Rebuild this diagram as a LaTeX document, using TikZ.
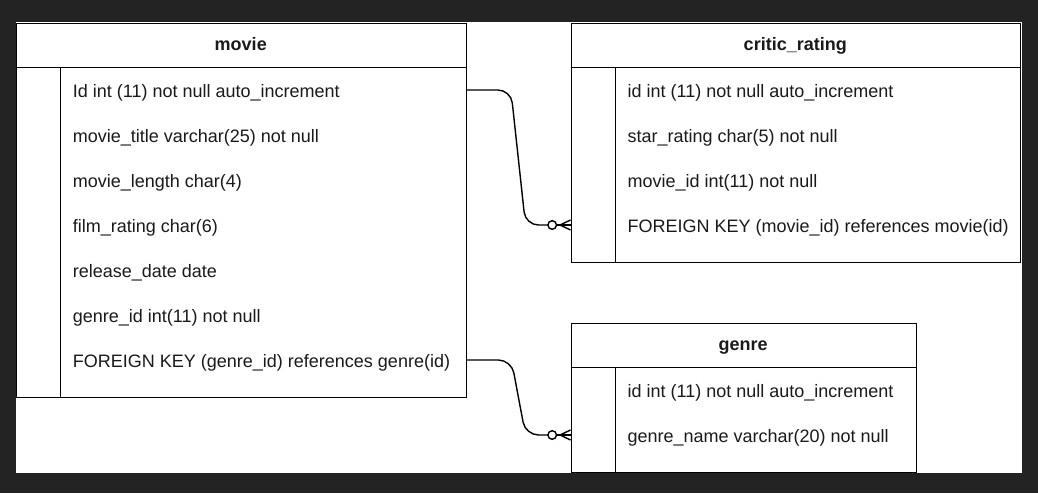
\documentclass[tikz,border=0pt]{standalone}
\usepackage{fontspec}
\setmainfont{Liberation Sans}
\definecolor{bgdark}{HTML}{232323}
\definecolor{ink}{HTML}{1A1A1A}
\begin{document}
\begin{tikzpicture}[x=1pt,y=-1pt,
  tbl/.style={draw=black, line width=1.4pt, fill=white, rectangle, inner sep=0pt, anchor=north west},
  sep/.style={draw=black, line width=1.4pt},
  field/.style={anchor=base west, inner sep=0pt, text=ink, font=\fontsize{18}{20}\selectfont},
  head/.style={anchor=base, inner sep=0pt, text=ink, font=\fontsize{18}{20}\selectfont\bfseries},
  rel/.style={draw=black, line width=1.4pt, rounded corners=13pt},
  relend/.style={draw=black, line width=1.4pt},
]
\useasboundingbox (0,0) rectangle (1038,493);
\fill[bgdark] (0,0) rectangle (1038,493);
\fill[white] (15.5,22) rectangle (1021.5,472.7);

% ---- movie table
\node[tbl, minimum width=449.5pt, minimum height=374.3pt] (movie) at (16,22.7) {};
\draw[sep] ([yshift=-44.6pt]movie.north west) -- ([yshift=-44.6pt]movie.north east);
\draw[sep] ([xshift=44.7pt,yshift=-44.6pt]movie.north west) -- ([xshift=44.7pt]movie.south west);
\node[head] (movieh) at (240.75,50.7) {movie};
\node[field] (m1) at (72.7,97.3) {Id int (11) not null auto\_increment};
\node[field] (m2) at (72.7,142.3) {movie\_title varchar(25) not null};
\node[field] (m3) at (72.7,187.3) {movie\_length char(4)};
\node[field] (m4) at (72.7,232.3) {film\_rating char(6)};
\node[field] (m5) at (72.7,277.3) {release\_date date};
\node[field] (m6) at (72.7,322.3) {genre\_id int(11) not null};
\node[field] (m7) at (72.7,367.3) {FOREIGN KEY (genre\_id) references genre(id)};

% ---- critic_rating table
\node[tbl, minimum width=449.5pt, minimum height=239pt] (critic) at (570.5,22.7) {};
\draw[sep] ([yshift=-44.6pt]critic.north west) -- ([yshift=-44.6pt]critic.north east);
\draw[sep] ([xshift=45.2pt,yshift=-44.6pt]critic.north west) -- ([xshift=45.2pt]critic.south west);
\node[head] (critich) at (795.25,50.7) {critic\_rating};
\node[field] (c1) at (627.4,97.3) {id int (11) not null auto\_increment};
\node[field] (c2) at (627.4,142.3) {star\_rating char(5) not null};
\node[field] (c3) at (627.4,187.3) {movie\_id int(11) not null};
\node[field] (c4) at (627.4,232.3) {FOREIGN KEY (movie\_id) references movie(id)};

% ---- genre table
\node[tbl, minimum width=345.2pt, minimum height=149pt] (genre) at (570.5,322.7) {};
\draw[sep] ([yshift=-44.6pt]genre.north west) -- ([yshift=-44.6pt]genre.north east);
\draw[sep] ([xshift=45pt,yshift=-44.6pt]genre.north west) -- ([xshift=45pt]genre.south west);
\node[head] (genreh) at (743.1,350.7) {genre};
\node[field] (g1) at (627.4,397.3) {id int (11) not null auto\_increment};
\node[field] (g2) at (627.4,442.3) {genre\_name varchar(20) not null};

% ---- relation anchors
\coordinate (s1) at ([yshift=7.3pt]movie.east |- m1.base);
\coordinate (t1) at ([yshift=7.3pt]critic.west |- c4.base);
\coordinate (s2) at ([yshift=7.3pt]movie.east |- m7.base);
\coordinate (t2) at ([yshift=7.3pt]genre.west |- g2.base);

% ---- movie -> critic_rating
\draw[rel] (s1) -- ++(44,0) -- ([xshift=-45pt]t1) -- ([xshift=-22.7pt]t1);
\draw[relend] ([xshift=-18.3pt]t1) circle[radius=4.3pt];
\draw[relend] ([xshift=-14pt]t1) -- (t1);
\draw[relend] ([xshift=-10.5pt]t1) -- ([yshift=5pt]t1);
\draw[relend] ([xshift=-10.5pt]t1) -- ([yshift=-5pt]t1);

% ---- movie -> genre
\draw[rel] (s2) -- ++(44.5,0) -- ([xshift=-45pt]t2) -- ([xshift=-22.7pt]t2);
\draw[relend] ([xshift=-18.3pt]t2) circle[radius=4.3pt];
\draw[relend] ([xshift=-14pt]t2) -- (t2);
\draw[relend] ([xshift=-10.5pt]t2) -- ([yshift=5pt]t2);
\draw[relend] ([xshift=-10.5pt]t2) -- ([yshift=-5pt]t2);
\end{tikzpicture}
\end{document}
